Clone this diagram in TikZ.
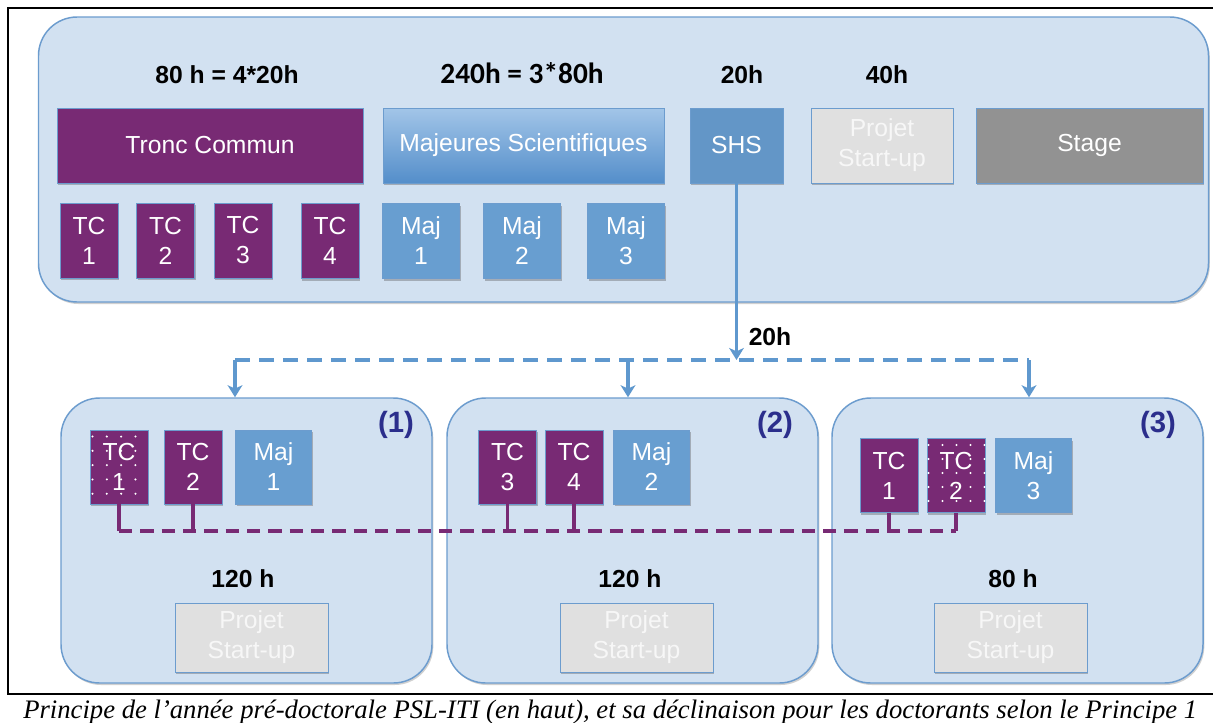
\documentclass[tikz,border=0pt]{standalone}
\usepackage{fontspec}
\setmainfont{Liberation Sans}
\newfontfamily\calib{Carlito}
\newfontfamily\capfont{Liberation Serif}
\usetikzlibrary{arrows.meta,shadows,calc}
\definecolor{purp}{RGB}{120,42,116}
\definecolor{bgblue}{RGB}{210,225,241}
\definecolor{bordblue}{RGB}{108,156,206}
\definecolor{majblue}{RGB}{104,158,208}
\definecolor{shsblue}{RGB}{99,150,199}
\definecolor{majtop}{RGB}{162,197,232}
\definecolor{majbot}{RGB}{84,142,202}
\definecolor{projgray}{RGB}{224,224,224}
\definecolor{stagegray}{RGB}{146,146,146}
\definecolor{navy}{RGB}{43,46,140}
\definecolor{arrowblue}{RGB}{95,152,206}
\begin{document}
\begin{tikzpicture}[x=0.75pt,y=-0.75pt,
  bigbox/.style={draw=bordblue,line width=1.1pt,fill=bgblue,rounded corners=29pt,
    drop shadow={shadow xshift=1pt,shadow yshift=-1.5pt,opacity=0.3,fill=black!60},
    minimum width=278.25pt,minimum height=213.75pt,inner sep=0pt},
  box/.style={draw=bordblue,line width=0.7pt,inner sep=0pt,align=center,text=white,
    font=\fontsize{18.5}{22.5}\selectfont,
    drop shadow={shadow xshift=1pt,shadow yshift=-1.5pt,opacity=0.35,fill=black!70}},
  tcbox/.style={box,fill=purp,minimum width=43.5pt,minimum height=55.5pt},
  majbox/.style={box,fill=majblue,minimum width=57.5pt,minimum height=55.5pt},
  projbox/.style={box,fill=projgray,text=white!97!black,minimum width=114.75pt,minimum height=51.75pt},
  hours/.style={anchor=base,font=\bfseries\fontsize{18.5}{22}\selectfont},
  numlab/.style={text=navy,font=\bfseries\fontsize{22}{26}\selectfont},
  barrow/.style={draw=arrowblue,line width=2.4pt,-{Stealth[length=9pt,width=11pt,inset=2.5pt]}},
  bdash/.style={draw=arrowblue,line width=3pt,dash pattern=on 11pt off 7pt},
  pdash/.style={draw=purp,line width=2.5pt,dash pattern=on 10pt off 6pt},
  pstub/.style={draw=purp,line width=2.5pt},
  frame/.style={draw=black,line width=1.1pt}]
\useasboundingbox (0,0) rectangle (1213,722);
\fill[white] (0,0) rectangle (1213,722);
% frame
\draw[frame] (1213,8) -- (8,8) -- (8,694) -- (1213,694);
% top big box
\node[bigbox,minimum width=877.5pt,minimum height=213.75pt] (top) at (623.5,159.5) {};
% header labels
\node[hours] (h80) at (227,83) {80 h = 4*20h};
\node[anchor=base,font=\calib\bfseries\fontsize{22}{26}\selectfont] (h240) at (522,83) {240h = 3*80h};
\node[hours] (h20) at (742,83) {20h};
\node[hours] (h40) at (887,83) {40h};
% top row boxes
\node[box,fill=purp,minimum width=229.5pt,minimum height=56.25pt] (tronc) at (210,145.5) {Tronc Commun};
\node[box,top color=majtop,bottom color=majbot,minimum width=210.75pt,minimum height=56.25pt] (maj) at (523.5,145.5) {Majeures Scientifiques};
\node[box,fill=shsblue,minimum width=69.75pt,minimum height=56.25pt] (shs) at (736.5,145.5) {SHS};
\node[projbox,minimum width=106.5pt,minimum height=56.25pt] (proj0) at (882,145.5) {Projet\\Start-up};
\node[box,fill=stagegray,minimum width=170.25pt,minimum height=56.25pt] (stage) at (1089.5,145.5) {Stage};
% small top boxes
\node[tcbox,minimum height=56.25pt] (t1) at (89,240.5) {TC\\1};
\node[tcbox,minimum height=56.25pt] (t2) at (165.5,240.5) {TC\\2};
\node[tcbox,minimum height=56.25pt] (t3) at (243,240.5) {TC\\3};
\node[tcbox,minimum height=56.25pt] (t4) at (330,241) {TC\\4};
\node[majbox,minimum height=56.25pt] (m1) at (421,241) {Maj\\1};
\node[majbox,minimum height=56.25pt] (m2) at (522,241) {Maj\\2};
\node[majbox,minimum height=56.25pt] (m3) at (626,241) {Maj\\3};
% lower big boxes
\node[bigbox] (b1) at (246.5,540.5) {};
\node[bigbox] (b2) at (632.5,540.5) {};
\node[bigbox] (b3) at (1017.5,540.5) {};
\node[numlab] (n1) at (396,425) {(1)};
\node[numlab] (n2) at (775,425) {(2)};
\node[numlab] (n3) at (1158,425) {(3)};
% box 1 contents
\node[tcbox] (a1) at (119,467) {TC\\1};
\foreach \i in {0,...,3}\foreach \j in {0,...,4}
  \fill[white] ($(a1.north west)+(3+14.3*\i,7+14.3*\j)$) circle[radius=0.85pt];
\node[tcbox] (a2) at (193,467) {TC\\2};
\node[majbox] (a3) at (273.5,467) {Maj\\1};
% box 2 contents
\node[tcbox] (c1) at (507.5,467) {TC\\3};
\node[tcbox] (c2) at (574,467) {TC\\4};
\node[majbox] (c3) at (651.5,467) {Maj\\2};
% box 3 contents
\node[tcbox] (d1) at (889,475.5) {TC\\1};
\node[tcbox] (d2) at (956,475.5) {TC\\2};
\foreach \i in {0,...,4}\foreach \j in {0,...,4}
  \fill[white] ($(d2.north west)+(2+14*\i,7+14*\j)$) circle[radius=0.85pt];
\node[majbox] (d3) at (1033.5,475.5) {Maj\\3};
% hours in lower boxes
\node[hours] (l1) at (243,587) {120 h};
\node[hours] (l2) at (630,587) {120 h};
\node[hours] (l3) at (1013,587) {80 h};
\node[projbox] (p1) at (251.5,637.5) {Projet\\Start-up};
\node[projbox] (p2) at (636.5,637.5) {Projet\\Start-up};
\node[projbox] (p3) at (1010.5,637.5) {Projet\\Start-up};
% blue distribution
\coordinate (hub) at (736.5,360);
\coordinate (e1) at (235,360);
\coordinate (e2) at (628,360);
\coordinate (e3) at (1029,360);
\draw[bdash] (e1) -- (e3);
\draw[barrow] (shs.south) -- (shs.south |- hub);
\node[hours] (h20b) at (770,345) {20h};
\draw[barrow] (e1) -- (e1 |- b1.north);
\draw[barrow] (e2) -- (e2 |- b2.north);
\draw[barrow] (e3) -- (e3 |- b3.north);
% purple links
\coordinate (pl) at (0,531);
\draw[pdash] (a1.south |- pl) -- (d2.south |- pl);
\foreach \n in {a1,a2,c1,c2,d1,d2}
  \draw[pstub] (\n.south) -- (\n.south |- pl);
% caption
\node[anchor=base west,inner sep=0pt,font=\capfont\itshape\fontsize{20}{24}\selectfont] (cap) at (23,718)
  {Principe de l’année pré-doctorale PSL-ITI (en haut), et sa déclinaison pour les doctorants selon le Principe 1};
\end{tikzpicture}
\end{document}
